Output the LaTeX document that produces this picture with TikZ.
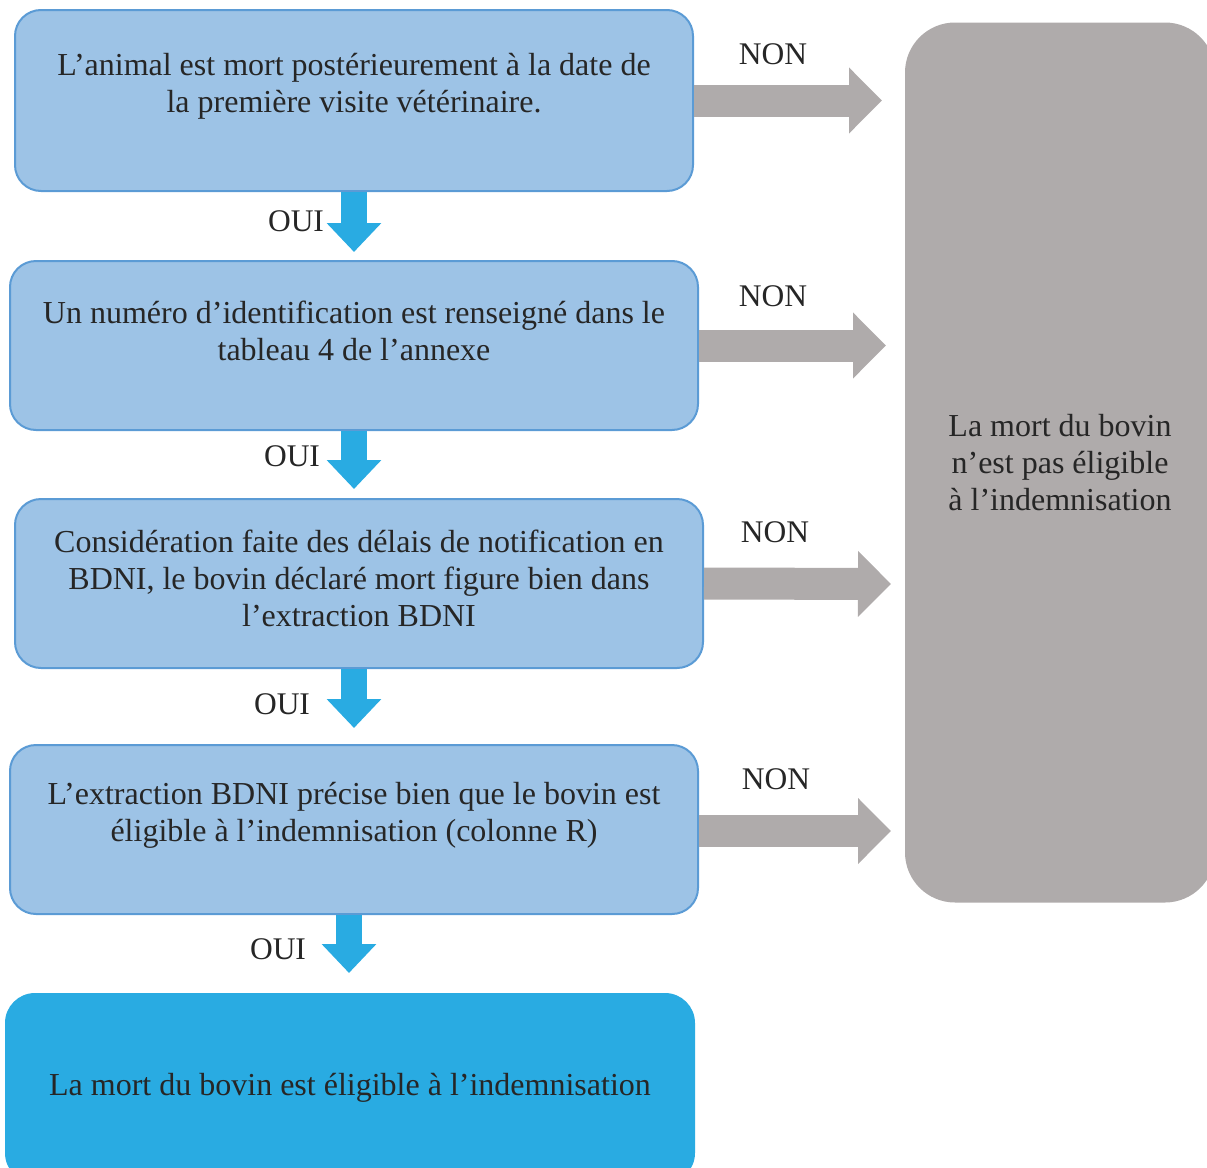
\documentclass[tikz,border=0pt]{standalone}
\usepackage{fontspec}
\setmainfont{Liberation Serif}
\usepackage{xcolor}
\definecolor{Col1}{RGB}{157,195,230}
\definecolor{Col2}{RGB}{91,155,213}
\definecolor{Col3}{RGB}{175,171,171}
\definecolor{Col4}{RGB}{41,171,226}
\definecolor{Col5}{RGB}{38,38,38}
\usepackage{tikz}
\usetikzlibrary{arrows.meta}
\tikzstyle{Box}=[rectangle,rounded corners=26pt,draw=Col2,fill=Col1,
line width=2pt,inner sep=0pt]
\tikzstyle{BoxText}=[align=center,text=Col5,font=\fontsize{32}{37}\selectfont]
\tikzstyle{NodeNO}=[text=Col5,font=\fontsize{31.5}{35}\selectfont]
\tikzstyle{NonArrow}=[draw=Col3,line width=32pt,
-{Triangle[width=64pt,length=33pt]},Col3]
\tikzstyle{OuiArrow}=[draw=Col4,line width=26pt,
-{Triangle[width=53pt,length=29pt]},Col4]

\begin{document}
\begin{tikzpicture}[x=1pt,y=-1pt]
        \useasboundingbox(0,0)rectangle(1207,1167);
        % boxes
        \node[Box,minimum width=678pt,minimum height=181pt](b1)at(354,100.5){};
        \node[Box,minimum width=688pt,minimum height=169pt](b2)at(354,345.5){};
        \node[Box,minimum width=688pt,minimum height=169pt](b3)at(359,583.5){};
        \node[Box,minimum width=688pt,minimum height=169pt](b4)at(354,829.5){};
        \node[BoxText](t1)at(354,86.5)
            {L’animal est mort postérieurement à la date de\\
             la première visite vétérinaire.};
        \node[BoxText](t2)at(354,330.5)
            {Un numéro d’identification est renseigné dans le\\
             tableau 4 de l’annexe};
        \node[BoxText](t3)at(359,578)
            {Considération faite des délais de notification en\\
             BDNI, le bovin déclaré mort figure bien dans\\
             l’extraction BDNI};
        \node[BoxText](t4)at(354,815.5)
            {L’extraction BDNI précise bien que le bovin est\\
             éligible à l’indemnisation (colonne R)};
        \node[BoxText,rectangle,rounded corners=30pt,fill=Col4,
            minimum width=690pt,minimum height=190pt](ok)at(350,1088)
            {La mort du bovin est éligible à l’indemnisation};
        \node[BoxText,rectangle,rounded corners=50pt,fill=Col3,
            minimum width=310pt,minimum height=880pt](ko)at(1060,462.5)
            {La mort du bovin\\n’est pas éligible\\à l’indemnisation};
        % NON
        \coordinate(e1)at(882,100.5);
        \coordinate(e2)at(886,345.5);
        \coordinate(e3)at(891,584);
        \coordinate(e4)at(891,831);
        \draw[NonArrow](b1.east)--(e1);
        \draw[NonArrow](b2.east)--(e2);
        \draw[NonArrow](b3.east)--(e3);
        \draw[NonArrow](b4.east|-e4)--(e4);
        \node[NodeNO](n1)at(773,54){NON};
        \node[NodeNO](n2)at(773,296){NON};
        \node[NodeNO](n3)at(775,532){NON};
        \node[NodeNO](n4)at(776,779){NON};
        % OUI
        \coordinate(o1)at(354,252);
        \coordinate(o2)at(354,489);
        \coordinate(o3)at(354,728);
        \coordinate(o4)at(349,973);
        \draw[OuiArrow](b1.south)--(o1);
        \draw[OuiArrow](b2.south)--(o2);
        \draw[OuiArrow](o3|-b3.south)--(o3);
        \draw[OuiArrow](o4|-b4.south)--(o4);
        \node[NodeNO](y1)at(296,221){OUI};
        \node[NodeNO](y2)at(292,456){OUI};
        \node[NodeNO](y3)at(282,704){OUI};
        \node[NodeNO](y4)at(278,949){OUI};
    \end{tikzpicture}
\end{document}
